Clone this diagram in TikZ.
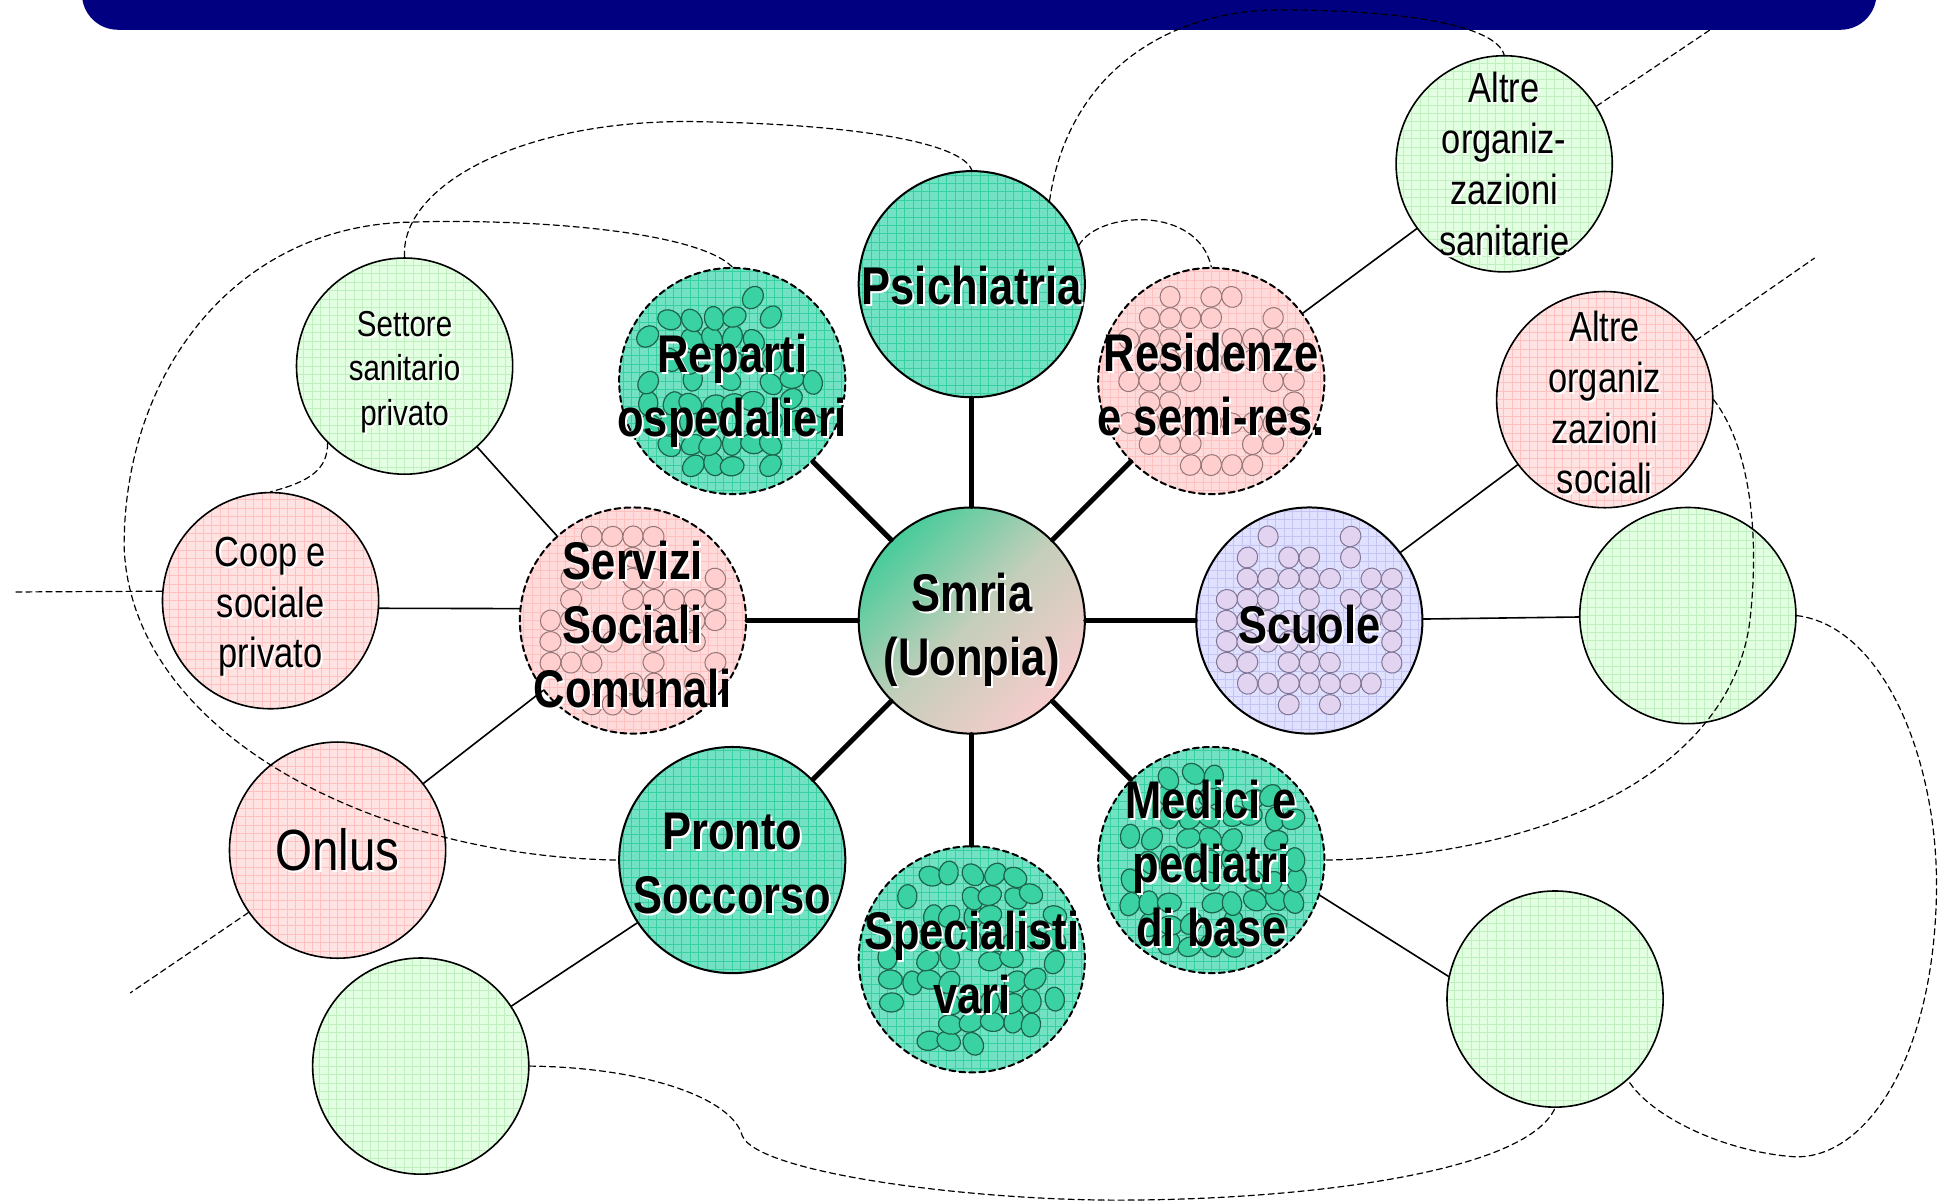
\documentclass[tikz,border=0pt]{standalone}
\usepackage{fontspec}
\setmainfont{Liberation Sans}[FakeStretch=0.82]

\definecolor{barblue}{RGB}{0,0,128}
\definecolor{hubaqua}{RGB}{115,226,196}
\definecolor{aquagrid}{RGB}{55,208,160}
\definecolor{aquabub}{RGB}{58,210,162}
\definecolor{aquabubline}{RGB}{28,100,74}
\definecolor{pinkin}{RGB}{255,218,218}
\definecolor{pinkout}{RGB}{255,226,226}
\definecolor{pinkgrid}{RGB}{255,192,192}
\definecolor{pinkbubfill}{RGB}{255,206,206}
\definecolor{pinkbubline}{RGB}{150,118,118}
\definecolor{greenout}{RGB}{226,255,226}
\definecolor{greengrid}{RGB}{192,240,192}
\definecolor{lavfill}{RGB}{224,224,255}
\definecolor{lavgrid}{RGB}{196,196,245}
\definecolor{lavbubfill}{RGB}{226,212,240}
\definecolor{lavbubline}{RGB}{128,118,150}
\definecolor{smriagreen}{RGB}{72,204,154}
\definecolor{smriamid}{RGB}{196,206,186}
\definecolor{smriapink}{RGB}{246,204,204}

\tikzset{
  hub/.style={circle, minimum size=113pt, inner sep=0pt, draw=black, line width=1pt},
  ring/.style={circle, minimum size=108pt, inner sep=0pt, draw=black, line width=0.8pt},
  gridded/.style={path picture={\draw[#1, solid, line width=0.35pt, step=4.2pt]
      (path picture bounding box.south west) grid (path picture bounding box.north east);}},
  aquahub/.style={hub, fill=hubaqua, gridded=aquagrid},
  pinkhub/.style={hub, fill=pinkin, gridded=pinkgrid},
  lavhub/.style={hub, fill=lavfill, gridded=lavgrid},
  dashedrim/.style={dash pattern=on 3pt off 2pt},
  greenring/.style={ring, fill=greenout, gridded=greengrid},
  pinkring/.style={ring, fill=pinkout, gridded=pinkgrid},
  spoke/.style={line width=2.5pt},
  tie/.style={line width=0.8pt},
  link/.style={line width=0.6pt, dash pattern=on 3pt off 2pt},
  bigtext/.style={font=\bfseries\fontsize{26.5}{32}\selectfont, align=center, inner sep=0pt, yshift=-1.8pt},
  midtext/.style={font=\fontsize{21}{25.4}\selectfont, align=center, inner sep=0pt},
  smalltext/.style={font=\fontsize{18}{22.3}\selectfont, align=center, inner sep=0pt},
  onlustext/.style={font=\fontsize{29}{34}\selectfont, align=center, inner sep=0pt},
  shadowed/.style={text=white, xshift=1pt, yshift=-1pt},
  greenbub/.style={fill=aquabub, draw=aquabubline, line width=0.6pt},
  pinkbub/.style={fill=pinkbubfill, draw=pinkbubline, line width=0.5pt},
  lavbub/.style={fill=lavbubfill, draw=lavbubline, line width=0.5pt},
}

% text with a white shadow, set on a circle
\newcommand\circletext[3]{%
  \node[#1, shadowed] (#2-s) at (#2) {#3};
  \node[#1] (#2-t) at (#2) {#3};}

% bubbles inside a circle: node, style, seed, share kept, jitter, radii
\newcommand\bubbles[7]{%
  \begin{scope}
    \clip (#1) circle[radius=55pt];
    \pgfmathsetseed{#3}
    \foreach \i in {-5,...,5}{
      \foreach \j in {-5,...,5}{
        \pgfmathsetmacro\keep{rnd}
        \pgfmathsetmacro\turn{rnd*180}
        \pgfmathsetmacro\px{\i*10.3+(rnd-0.5)*#5}
        \pgfmathsetmacro\py{\j*10.5+(rnd-0.5)*#5}
        \pgfmathsetmacro\dist{veclen(\i,\j)}
        \ifdim\keep pt<#4pt\ifdim\dist pt<4.6pt
          \draw[#2, shift={(#1)}, xshift=\px*1pt, yshift=\py*1pt, rotate=\turn]
            (0,0) ellipse[x radius=#6, y radius=#7];
        \fi\fi
      }}
  \end{scope}}

\begin{document}
\begin{tikzpicture}[line cap=round, line join=round, x=0.62pt, y=-0.62pt]
\useasboundingbox (0,0) rectangle (1568,968);
% title bar
\fill[barblue, rounded corners=18pt] (66,-60) rectangle (1512,24);

% inner ring
\node[hub, top color=smriagreen, bottom color=smriapink, middle color=smriamid, shading angle=45] (smria) at (783,500) {};
\node[aquahub] (psi) at (783,229) {};
\node[aquahub, dashedrim] (reparti) at (590,307) {};
\node[pinkhub, dashedrim] (resid) at (976,307) {};
\node[pinkhub, dashedrim] (servizi) at (510,500) {};
\node[lavhub] (scuole) at (1055,500) {};
\node[aquahub] (pronto) at (590,693) {};
\node[aquahub, dashedrim] (special) at (783,773) {};
\node[aquahub, dashedrim] (medici) at (976,693) {};

% outer ring
\node[greenring] (settore) at (326,295) {};
\node[pinkring] (coop) at (218,484) {};
\node[pinkring] (onlus) at (272,685) {};
\node[greenring] (emptybl) at (339,859) {};
\node[greenring] (altsan) at (1212,132) {};
\node[pinkring] (altsoc) at (1293,322) {};
\node[greenring] (emptyr) at (1360,496) {};
\node[greenring] (emptybr) at (1253,805) {};

% bubbles
\bubbles{reparti}{greenbub}{11}{0.62}{3}{6pt}{4.8pt}
\bubbles{special}{greenbub}{23}{0.62}{3}{6pt}{4.8pt}
\bubbles{medici}{greenbub}{37}{0.62}{3}{6pt}{4.8pt}
\bubbles{servizi}{pinkbub}{5}{0.65}{0}{5pt}{5.3pt}
\bubbles{resid}{pinkbub}{7}{0.65}{0}{5pt}{5.3pt}
\bubbles{scuole}{lavbub}{9}{0.7}{0}{5pt}{5.3pt}

% labels
\circletext{bigtext, yshift=-3pt}{smria}{Smria\\(Uonpia)}
\circletext{bigtext, yshift=1.2pt}{psi}{Psichiatria}
\circletext{bigtext, yshift=-3pt}{reparti}{Reparti\\ospedalieri}
\circletext{bigtext}{resid}{Residenze\\e semi-res.}
\circletext{bigtext}{servizi}{Servizi\\Sociali\\Comunali}
\circletext{bigtext}{scuole}{Scuole}
\circletext{bigtext}{pronto}{Pronto\\Soccorso}
\circletext{bigtext}{special}{Specialisti\\vari}
\circletext{bigtext}{medici}{Medici e\\pediatri\\di base}
\circletext{smalltext, yshift=-3pt}{settore}{Settore\\sanitario\\privato}
\circletext{midtext, yshift=-3pt}{coop}{Coop e\\sociale\\privato}
\circletext{onlustext}{onlus}{Onlus}
\circletext{midtext}{altsan}{Altre\\organiz-\\zazioni\\sanitarie}
\circletext{midtext, yshift=-1.5pt}{altsoc}{Altre\\organiz\\zazioni\\sociali}

% spokes
\draw[spoke] (smria) -- (psi);
\draw[spoke] (smria) -- (reparti);
\draw[spoke] (smria) -- (resid);
\draw[spoke] (smria) -- (servizi);
\draw[spoke] (smria) -- (scuole);
\draw[spoke] (smria) -- (pronto);
\draw[spoke] (smria) -- (special);
\draw[spoke] (smria) -- (medici);

% thin ties
\draw[tie] (settore) -- (servizi);
\draw[tie] (coop.-4) -- (servizi.174);
\draw[tie] (onlus) -- (servizi);
\draw[tie] (emptybl) -- (pronto);
\draw[tie] (resid) -- (altsan);
\draw[tie] (scuole) -- (altsoc);
\draw[tie] (scuole) -- (emptyr);
\draw[tie] (medici.-18) -- (emptybr.168);

% dashed links
\coordinate (westend) at (10,477);
\coordinate (swend) at (105,800);
\coordinate (barend) at (1378,24);
\coordinate (eastend) at (1462,208);
\draw[link] (settore.north) .. controls (322,150) and (420,96) .. (560,98)
  .. controls (690,100) and (775,115) .. (psi.north);
\draw[link] (reparti.north) .. controls (560,185) and (420,176) .. (330,179)
  .. controls (190,182) and (100,300) .. (100,440)
  .. controls (105,590) and (300,690) .. (pronto.west);
\draw[link] (settore.225) .. controls (264,378) and (250,388) .. (coop.north);
\draw[link] (coop.175) -- (westend);
\draw[link] (onlus.215) -- (swend);
\draw[link] (psi.47) .. controls (860,60) and (940,8) .. (1031,8)
  .. controls (1130,8) and (1205,20) .. (altsan.north);
\draw[link] (psi.20) .. controls (885,170) and (965,165) .. (resid.north);
\draw[link] (altsan.32) -- (barend);
\draw[link] (altsoc.33) -- (eastend);
\draw[link] (altsoc.east) .. controls (1410,360) and (1418,430) .. (1410,500)
  .. controls (1395,620) and (1250,690) .. (medici.east);
\draw[link] (emptyr.east) .. controls (1520,505) and (1565,620) .. (1560,730)
  .. controls (1555,860) and (1500,935) .. (1445,932)
  .. controls (1390,928) and (1330,900) .. (emptybr.-48);
\draw[link] (emptybl.east) .. controls (520,860) and (590,885) .. (598,915)
  .. controls (610,945) and (780,967) .. (900,967)
  .. controls (1050,967) and (1230,945) .. (emptybr.south);
\end{tikzpicture}
\end{document}
